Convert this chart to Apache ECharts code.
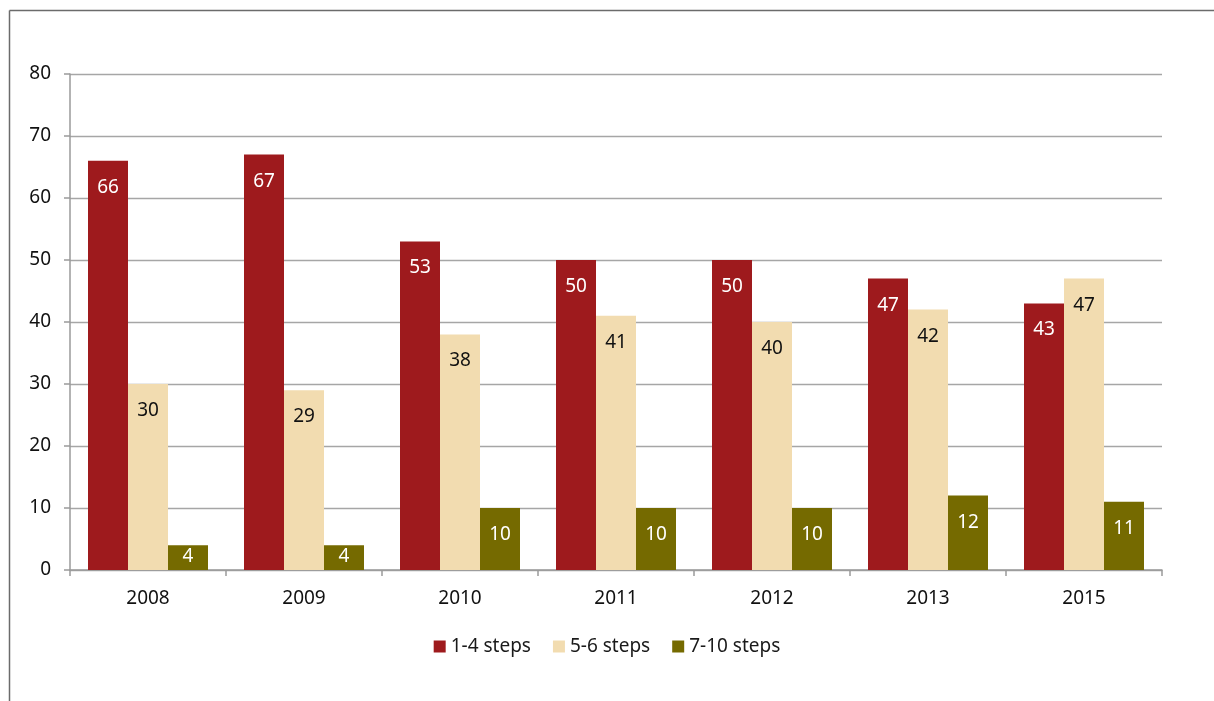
<!DOCTYPE html>
<html>
<head>
<meta charset="utf-8">
<script src="https://cdn.jsdelivr.net/npm/echarts@6/dist/echarts.min.js"></script>
<style>
html,body{margin:0;padding:0;background:#fff;}
#c{width:1214px;height:701px;}
</style>
</head>
<body>
<div id="c"></div>
<script>
const categories = ['2008','2009','2010','2011','2012','2013','2015'];
const steps1to4 = [66,67,53,50,50,47,43];
const steps5to6 = [30,29,38,41,40,42,47];
const steps7to10 = [4,4,10,10,10,12,11];
const seriesNames = ['1-4 steps','5-6 steps','7-10 steps'];
const yTicks = [0,10,20,30,40,50,60,70,80];

const FONT = '"Noto Sans", sans-serif';
const chart = echarts.init(document.getElementById('c'), null, {renderer:'canvas'});
function mk(name, data, color, labelColor){
  return {
    name, type:'bar',
    data: data.map(v => v < 8 ? {value:v, label:{distance:2}} : v),
    barWidth:40, barGap:'0%',
    itemStyle:{color},
    label:{show:true, position:'insideTop', distance:17, color:labelColor, fontSize:19, fontFamily:FONT},
    emphasis:{disabled:true}
  };
}
chart.setOption({
  animation:false,
  textStyle:{fontFamily:FONT},
  graphic:[
    {type:'line', shape:{x1:9.5,y1:10.5,x2:1214,y2:10.5}, style:{stroke:'#6b6b6b', lineWidth:1.5}},
    {type:'line', shape:{x1:9.5,y1:10.5,x2:9.5,y2:701}, style:{stroke:'#6b6b6b', lineWidth:1.5}}
  ],
  grid:{left:70, right:52, top:74, bottom:131, containLabel:false},
  legend:{
    data:seriesNames, bottom:40, left:'center', itemWidth:12, itemHeight:12, itemGap:22,
    icon:'rect', textStyle:{fontSize:19, color:'#1a1a1a', fontFamily:FONT}
  },
  xAxis:{
    type:'category', data:categories,
    axisLine:{lineStyle:{color:'#9a9a9a', width:1.5}},
    axisTick:{show:true, length:6, lineStyle:{color:'#9a9a9a', width:1.5}},
    axisLabel:{fontSize:19, color:'#111', margin:19, fontFamily:FONT}
  },
  yAxis:{
    type:'value', min:yTicks[0], max:yTicks[yTicks.length-1], interval:10,
    axisLine:{show:true, lineStyle:{color:'#9a9a9a', width:1.5}},
    axisTick:{show:true, length:6, lineStyle:{color:'#9a9a9a', width:1.5}},
    splitLine:{lineStyle:{color:'#a6a6a6', width:1.3}},
    axisLabel:{fontSize:19, color:'#111', margin:19, fontFamily:FONT}
  },
  series:[
    mk(seriesNames[0], steps1to4, '#9E1A1D', '#ffffff'),
    mk(seriesNames[1], steps5to6, '#F2DCB0', '#111111'),
    mk(seriesNames[2], steps7to10, '#756A00', '#ffffff')
  ]
});
</script>
</body>
</html>
